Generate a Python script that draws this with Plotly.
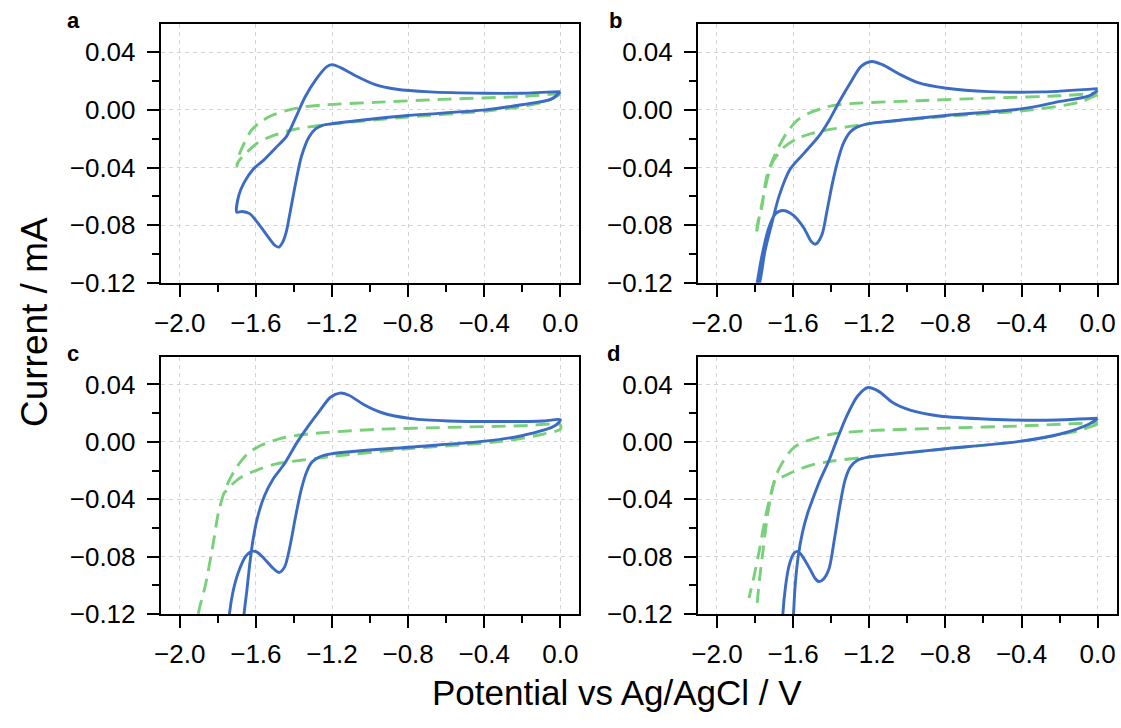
import plotly.graph_objects as go
from plotly.subplots import make_subplots

# ---------------- data ----------------
# Panel a
blue_a_V = [0.0, -0.048, -0.203, -0.396, -0.802, -1.0, -1.198, -1.25, -1.285, -1.32, -1.36, -1.39, -1.42,
            -1.44, -1.458, -1.478, -1.50, -1.517, -1.556, -1.594, -1.633, -1.672, -1.70, -1.69, -1.662,
            -1.613, -1.556, -1.498, -1.44, -1.382, -1.343, -1.285, -1.227, -1.198, -1.15, -1.072, -0.976,
            -0.86, -0.686, -0.396, -0.203, 0.0]
blue_a_I = [0.0125, 0.0075, 0.0036, 0.0, -0.0039, -0.0065, -0.0095, -0.0107, -0.013, -0.0186, -0.032, -0.050,
            -0.071, -0.0845, -0.0915, -0.0952, -0.094, -0.0914, -0.0845, -0.0777, -0.072, -0.0705, -0.071,
            -0.0595, -0.0505, -0.041, -0.0345, -0.0266, -0.0186, -0.0027, 0.0086, 0.021, 0.030, 0.0314,
            0.029, 0.0234, 0.0177, 0.0143, 0.0125, 0.0116, 0.0116, 0.0127]
green_a_V = [0.0, -0.068, -0.203, -0.396, -0.802, -1.227, -1.40, -1.517, -1.594, -1.652, -1.691, -1.70,
             -1.691, -1.662, -1.623, -1.575, -1.517, -1.44, -1.362, -1.227, -0.976, -0.589, -0.203, 0.0]
green_a_I = [0.0109, 0.0064, 0.0023, -0.0009, -0.005, -0.0102, -0.0136, -0.0182, -0.0232, -0.030, -0.0357,
             -0.039, -0.0323, -0.0232, -0.0141, -0.0084, -0.0039, -0.0005, 0.0018, 0.0036, 0.0052, 0.0075,
             0.0093, 0.0114]

# Panel b
blue_b_V = [0.0, -0.05, -0.196, -0.402, -0.798, -1.131, -1.2, -1.262, -1.299, -1.336, -1.364, -1.393, -1.42,
            -1.449, -1.482, -1.505, -1.542, -1.598, -1.654, -1.692, -1.729, -1.766, -1.789, -1.80, -1.776,
            -1.748, -1.71, -1.673, -1.617, -1.542, -1.467, -1.411, -1.355, -1.299, -1.243, -1.187, -1.131,
            -1.037, -0.944, -0.794, -0.570, -0.290, 0.0]
blue_b_I = [0.0136, 0.0095, 0.0059, 0.0007, -0.0039, -0.0084, -0.0095, -0.0118, -0.0152, -0.0232, -0.0345,
            -0.0505, -0.0686, -0.0868, -0.0932, -0.0914, -0.0823, -0.0732, -0.0698, -0.072, -0.0823, -0.1027,
            -0.12, -0.128, -0.12, -0.098, -0.0777, -0.0595, -0.0414, -0.030, -0.0186, -0.0073, 0.0064, 0.0189,
            0.0302, 0.0336, 0.0314, 0.0245, 0.0189, 0.015, 0.0127, 0.0125, 0.0148]
green_b_V = [0.0, -0.103, -0.383, -0.798, -1.2, -1.318, -1.43, -1.505, -1.579, -1.654, -1.71, -1.748, -1.776,
             -1.794, -1.785, -1.766, -1.738, -1.692, -1.636, -1.579, -1.505, -1.393, -1.28, -0.944, -0.570,
             -0.196, 0.0]
green_b_I = [0.0105, 0.0052, -0.0005, -0.0045, -0.0095, -0.0118, -0.0141, -0.0164, -0.0198, -0.0266, -0.0368,
             -0.055, -0.0732, -0.0868, -0.078, -0.0686, -0.0459, -0.030, -0.0164, -0.0073, -0.0016, 0.003,
             0.0045, 0.0064, 0.0082, 0.0098, 0.0116]

# Panel c
blue_c_V = [0.0, -0.029, -0.203, -0.396, -0.80, -1.198, -1.266, -1.304, -1.333, -1.362, -1.391, -1.42, -1.449,
            -1.478, -1.517, -1.556, -1.594, -1.623, -1.652, -1.691, -1.72, -1.739, -1.76, -1.675, -1.662,
            -1.648, -1.633, -1.617, -1.594, -1.556, -1.507, -1.449, -1.382, -1.324, -1.266, -1.208, -1.159,
            -1.111, -1.034, -0.937, -0.782, -0.589, -0.30, -0.087, 0.0]
blue_c_I = [0.0155, 0.0112, 0.0043, 0.0005, -0.0037, -0.0082, -0.0105, -0.0139, -0.0208, -0.0334, -0.0517,
            -0.0722, -0.0871, -0.091, -0.0871, -0.0814, -0.0768, -0.0763, -0.0795, -0.0905, -0.1042, -0.12,
            -0.16, -0.16, -0.12, -0.1042, -0.086, -0.070, -0.054, -0.0379, -0.0254, -0.0151, 0.0, 0.0112,
            0.0215, 0.0311, 0.034, 0.0325, 0.0261, 0.0203, 0.0162, 0.0146, 0.0142, 0.0146, 0.0155]
# drawn once: steep common tail -> upper branch -> lower branch back to the junction
green_c_V = [-1.91, -1.903, -1.865, -1.826, -1.797, -1.768, -1.739, -1.70, -1.643, -1.575, -1.478, -1.362,
             -1.227, -0.976, -0.589, -0.203, 0.0, 0.0, -0.087, -0.30, -0.80, -1.198, -1.362, -1.498, -1.594,
             -1.672, -1.72, -1.749, -1.768]
green_c_I = [-0.135, -0.12, -0.0997, -0.0722, -0.0494, -0.0357, -0.0265, -0.0174, -0.0082, -0.0025, 0.0021,
             0.005, 0.0066, 0.0087, 0.0101, 0.0112, 0.0119, 0.0089, 0.0055, 0.0005, -0.0048, -0.0101, -0.0128,
             -0.0155, -0.0197, -0.0242, -0.029, -0.0334, -0.0357]

# Panel d
blue_d_V = [0.0, -0.047, -0.196, -0.40, -0.798, -1.131, -1.2, -1.262, -1.299, -1.327, -1.355, -1.383, -1.411,
            -1.44, -1.464, -1.485, -1.51, -1.533, -1.561, -1.579, -1.598, -1.621, -1.639, -1.654, -1.665,
            -1.61, -1.598, -1.589, -1.574, -1.551, -1.523, -1.495, -1.458, -1.411, -1.374, -1.318, -1.262,
            -1.206, -1.15, -1.075, -0.981, -0.832, -0.57, -0.29, 0.0]
blue_d_I = [0.0162, 0.0123, 0.0055, 0.0005, -0.0048, -0.0094, -0.0105, -0.0128, -0.0174, -0.0265, -0.0448,
            -0.0677, -0.0882, -0.0955, -0.0974, -0.095, -0.089, -0.0837, -0.078, -0.0763, -0.078, -0.086,
            -0.0997, -0.12, -0.16, -0.16, -0.12, -0.0997, -0.0805, -0.0631, -0.0494, -0.0391, -0.0265,
            -0.0128, 0.0, 0.0181, 0.0318, 0.0379, 0.0352, 0.0272, 0.0219, 0.018, 0.0158, 0.0151, 0.0165]
green_d_V = [0.0, -0.103, -0.40, -0.798, -1.2, -1.393, -1.505, -1.598, -1.654, -1.692, -1.72, -1.748, -1.776,
             -1.804, -1.832, None,
             -1.789, -1.776, -1.757, -1.738, -1.714, -1.692, -1.664, -1.626, -1.589, -1.523, -1.393, -1.2,
             -0.798, -0.383, 0.0]
green_d_I = [0.0123, 0.0078, 0.0005, -0.0048, -0.0105, -0.0133, -0.0162, -0.0208, -0.0242, -0.0265, -0.038,
             -0.054, -0.0745, -0.0928, -0.1088, None,
             -0.1122, -0.0951, -0.0745, -0.054, -0.0357, -0.0242, -0.0162, -0.0082, -0.0032, 0.0009, 0.0055,
             0.0078, 0.0096, 0.0112, 0.0135]

panel_labels = ["a", "b", "c", "d"]
x_title = "Potential vs Ag/AgCl / V"
y_title = "Current / mA"

panels = [
    (blue_a_V, blue_a_I, green_a_V, green_a_I),
    (blue_b_V, blue_b_I, green_b_V, green_b_I),
    (blue_c_V, blue_c_I, green_c_V, green_c_I),
    (blue_d_V, blue_d_I, green_d_V, green_d_I),
]

# ---------------- styling ----------------
BLUE = "#3b6bc2"
GREEN = "#78d078"
FONT = "Liberation Sans, Arial, sans-serif"
W, H = 1121, 728   # design size: positions below are fractions of it


def px(xp):
    return xp / W


def py(yp):
    return 1 - yp / H


fig = make_subplots(rows=2, cols=2)

positions = [(1, 1), (1, 2), (2, 1), (2, 2)]
for (r, c), (bv, bi, gv, gi) in zip(positions, panels):
    fig.add_trace(go.Scatter(x=gv, y=gi, mode="lines",
                             line=dict(color=GREEN, width=2.9, dash="14px,8px", shape="spline", smoothing=0.8),
                             connectgaps=False, showlegend=False, hoverinfo="skip"), row=r, col=c)
    fig.add_trace(go.Scatter(x=bv, y=bi, mode="lines",
                             line=dict(color=BLUE, width=2.9, shape="spline", smoothing=0.8),
                             showlegend=False, hoverinfo="skip"), row=r, col=c)

xdom_left = [px(154.7), px(576.0)]
xdom_right = [px(695.3), px(1116.7)]
ydom_top = [py(288.7), py(24.7)]
ydom_bot = [py(627.0), py(364.0)]

TICKFONT = dict(family=FONT, size=26, color="black")
common_x = dict(range=[-2.1, 0.1], tickmode="linear", tick0=-2.0, dtick=0.4, tickformat=".1f",
                showline=True, linecolor="black", linewidth=2, mirror=True,
                ticks="outside", ticklen=12, tickwidth=2, tickcolor="black",
                showgrid=True, gridcolor="#d4d4d4", gridwidth=1, griddash="4px,4px",
                zeroline=False, tickfont=TICKFONT, ticklabelstandoff=4,
                minor=dict(dtick=0.2, tick0=0, ticks="outside", ticklen=7, tickwidth=2,
                           tickcolor="black", showgrid=False))
common_y = dict(range=[-0.12, 0.0595], tickmode="linear", tick0=0, dtick=0.04, tickformat=".2f",
                showline=True, linecolor="black", linewidth=2, mirror=True,
                ticks="outside", ticklen=12, tickwidth=2, tickcolor="black",
                showgrid=True, gridcolor="#d4d4d4", gridwidth=1, griddash="4px,4px",
                zeroline=False, tickfont=TICKFONT, ticklabelstandoff=6,
                minor=dict(dtick=0.02, tick0=0, ticks="outside", ticklen=7, tickwidth=2,
                           tickcolor="black", showgrid=False))

fig.update_layout(
    xaxis=dict(domain=xdom_left, **common_x),
    xaxis2=dict(domain=xdom_right, **common_x),
    xaxis3=dict(domain=xdom_left, **common_x),
    xaxis4=dict(domain=xdom_right, **common_x),
    yaxis=dict(domain=ydom_top, **common_y),
    yaxis2=dict(domain=ydom_top, **common_y),
    yaxis3=dict(domain=ydom_bot, **common_y),
    yaxis4=dict(domain=ydom_bot, **common_y),
)

label_pos = [(66.5, 21), (612.5, 21), (66.5, 361), (610, 361)]
annotations = []
for lab, (lx, ly) in zip(panel_labels, label_pos):
    annotations.append(dict(text="<b>%s</b>" % lab, x=px(lx), y=py(ly), xref="paper", yref="paper",
                            xanchor="center", yanchor="middle", showarrow=False,
                            font=dict(family=FONT, size=22, color="black")))
annotations.append(dict(text=x_title, x=px(614), y=py(707), xref="paper", yref="paper",
                        xanchor="center", yanchor="middle", showarrow=False,
                        font=dict(family=FONT, size=35, color="black")))
annotations.append(dict(text=y_title, x=px(27), y=py(329), xref="paper", yref="paper",
                        xanchor="center", yanchor="middle", showarrow=False, textangle=-90,
                        font=dict(family=FONT, size=37, color="black")))

# the figure fills the browser viewport; all positions are fractions of it
fig.update_layout(autosize=True,
                  margin=dict(l=0, r=0, t=0, b=0, pad=0),
                  paper_bgcolor="white", plot_bgcolor="white",
                  showlegend=False, annotations=annotations,
                  font=dict(family=FONT, color="black"))

fig.write_html("out.html",
               config={"displayModeBar": False},
               default_width="100vw", default_height="100vh",
               post_script="document.body.style.margin='0';document.body.style.overflow='hidden';")
